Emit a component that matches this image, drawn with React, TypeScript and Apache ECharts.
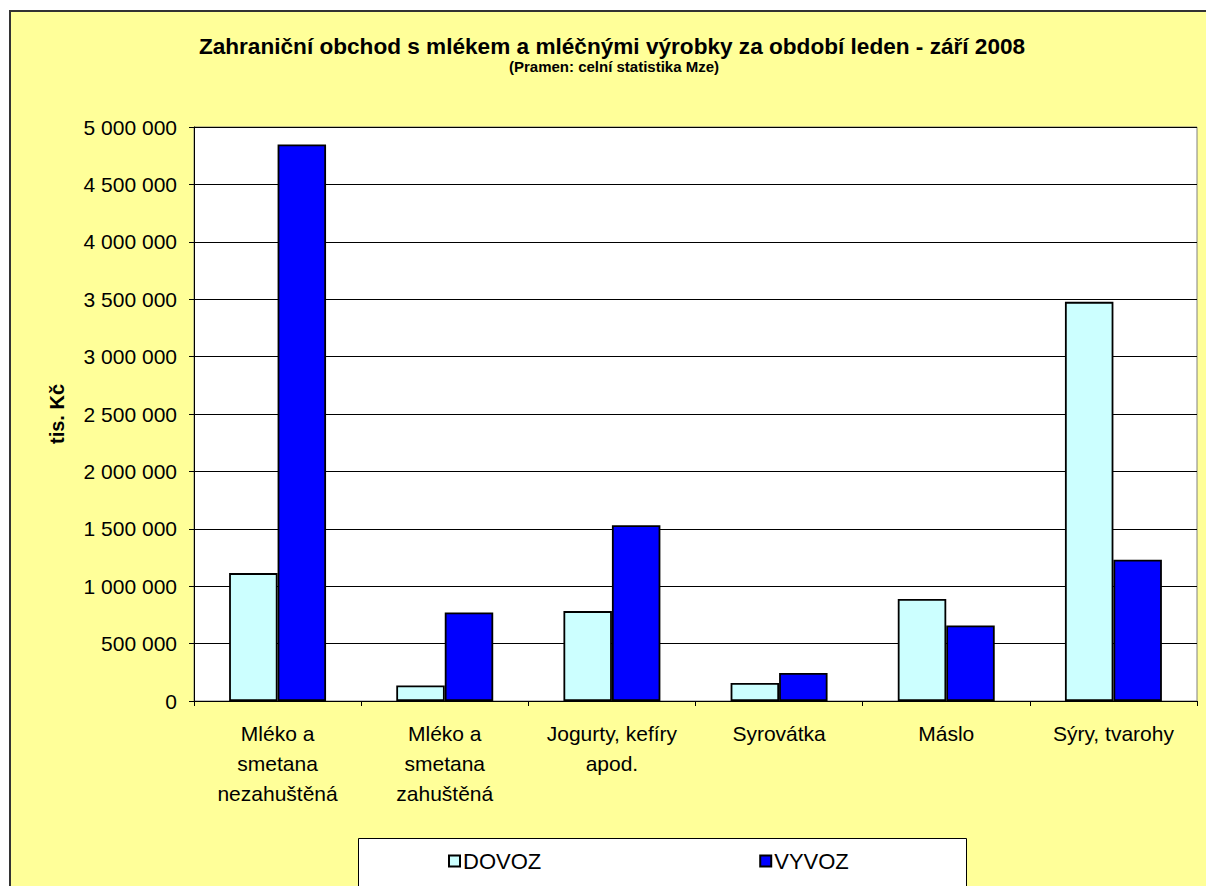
import React, { useEffect, useRef } from 'react';
import * as echarts from 'echarts';

const categories = [
  'Mléko a\nsmetana\nnezahuštěná',
  'Mléko a\nsmetana\nzahuštěná',
  'Jogurty, kefíry\napod.',
  'Syrovátka',
  'Máslo',
  'Sýry, tvarohy',
];
const seriesNames = ['DOVOZ', 'VYVOZ'];
const dovoz = [1114000, 135000, 783000, 157000, 888000, 3477000];
const vyvoz = [4847000, 771000, 1532000, 244000, 658000, 1230000];
const yMin = 0;
const yMax = 5000000;
const yInterval = 500000;
const titleText = 'Zahraniční obchod s mlékem a mléčnými výrobky za období leden - září 2008';
const subtitleText = '(Pramen: celní statistika Mze)';
const yAxisName = 'tis. Kč';

const FONT = '"Liberation Sans", Arial, sans-serif';

function fmt(v: number): string {
  return String(v).replace(/\B(?=(\d{3})+(?!\d))/g, ' ');
}

export default function App() {
  const ref = useRef<HTMLDivElement>(null);
  useEffect(() => {
    if (!ref.current) return;
    const chart = echarts.init(ref.current, undefined, { renderer: 'svg' });
    chart.setOption({
      animation: false,
      textStyle: { fontFamily: FONT, color: '#000' },
      title: [
        {
          text: titleText,
          left: 612,
          top: 35,
          textAlign: 'center',
          textStyle: { fontFamily: FONT, fontSize: 22.6, fontWeight: 'bold', color: '#000' },
          padding: 0,
        },
        {
          text: subtitleText,
          left: 614,
          top: 59,
          textAlign: 'center',
          textStyle: { fontFamily: FONT, fontSize: 15, fontWeight: 'bold', color: '#000' },
          padding: 0,
        },
      ],
      graphic: [
        {
          type: 'rect',
          z: 1,
          silent: true,
          shape: { x: 358.5, y: 838.5, width: 608, height: 60 },
          style: { fill: '#FFFFFF', stroke: '#000', lineWidth: 1 },
        },
      ],
      legend: {
        z: 10,
        left: 448,
        top: 850,
        padding: 0,
        icon: 'rect',
        itemWidth: 11,
        itemHeight: 11,
        itemGap: 218,
        data: seriesNames,
        textStyle: { fontFamily: FONT, fontSize: 22, color: '#000', padding: [0, 0, 0, -2] },
      },
      grid: {
        left: 194,
        top: 127,
        right: 9,
        bottom: 185,
        show: true,
        backgroundColor: '#FFFFFF',
        borderColor: '#808080',
        borderWidth: 1,
      },
      xAxis: {
        type: 'category',
        data: categories,
        axisLine: { lineStyle: { color: '#000', width: 1 } },
        axisTick: { show: true, length: 5, interval: 0, lineStyle: { color: '#000' } },
        axisLabel: {
          interval: 0,
          fontFamily: FONT,
          fontSize: 21,
          color: '#000',
          lineHeight: 30,
          margin: 17,
        },
      },
      yAxis: {
        type: 'value',
        min: yMin,
        max: yMax,
        interval: yInterval,
        name: yAxisName,
        nameLocation: 'middle',
        nameGap: 127,
        nameTextStyle: { fontFamily: FONT, fontSize: 20, fontWeight: 'bold', color: '#000' },
        axisLine: { show: true, lineStyle: { color: '#000', width: 1 } },
        axisTick: { show: true, length: 5, lineStyle: { color: '#000' } },
        axisLabel: {
          fontFamily: FONT,
          fontSize: 21,
          color: '#000',
          margin: 17,
          formatter: (v: number) => fmt(v),
        },
        splitLine: { show: true, lineStyle: { color: '#000', width: 1 } },
      },
      series: [
        {
          name: seriesNames[0],
          type: 'bar',
          data: dovoz,
          barGap: '0%',
          barCategoryGap: '42%',
          itemStyle: { color: '#CCFFFF', borderColor: '#000', borderWidth: 1.8 },
        },
        {
          name: seriesNames[1],
          type: 'bar',
          data: vyvoz,
          barGap: '0%',
          barCategoryGap: '42%',
          itemStyle: { color: '#0000FF', borderColor: '#000', borderWidth: 1.8 },
        },
      ],
    });
    return () => chart.dispose();
  }, []);

  return (
    <div style={{ position: 'absolute', left: 0, top: 0, width: 1206, height: 886, background: '#FFFFFF', overflow: 'hidden' }}>
      <div
        style={{
          position: 'absolute',
          left: 9,
          top: 10,
          width: 1230,
          height: 900,
          background: '#FFFF99',
          borderLeft: '2px solid #333333',
          borderTop: '2px solid #333333',
          boxSizing: 'border-box',
        }}
      />
      <div ref={ref} style={{ position: 'absolute', left: 0, top: 0, width: 1206, height: 886 }} />
    </div>
  );
}
